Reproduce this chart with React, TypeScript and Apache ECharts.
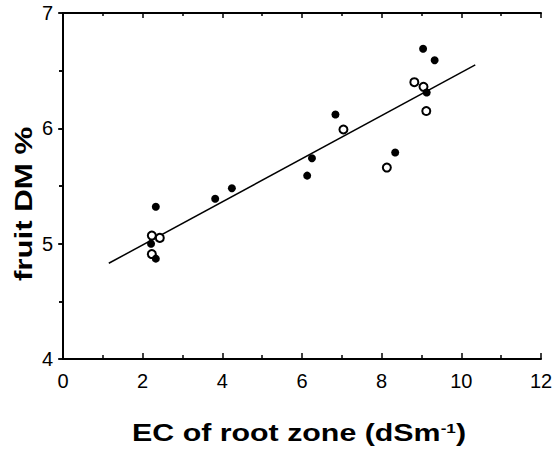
import React, { useEffect, useRef } from "react";
import * as echarts from "echarts";

const filledX = [2.33, 2.21, 2.33, 3.82, 4.24, 6.13, 6.25, 6.84, 8.34, 9.04, 9.33, 9.13];
const filledY = [5.32, 5.0, 4.87, 5.39, 5.48, 5.59, 5.74, 6.12, 5.79, 6.69, 6.59, 6.31];
const openX = [2.23, 2.43, 2.23, 7.04, 8.13, 8.82, 9.05, 9.12];
const openY = [5.07, 5.05, 4.91, 5.99, 5.66, 6.4, 6.36, 6.15];
const fitX = [1.15, 10.35];
const fitY = [4.83, 6.55];

const xTitle = "EC of root zone (dSm";
const xTitleSup = "-1";
const yTitle = "fruit DM %";

const zip = (a: number[], b: number[]) => a.map((v, i) => [v, b[i]]);

export default function App() {
  const ref = useRef<HTMLDivElement>(null);
  useEffect(() => {
    document.body.style.margin = "0";
    const chart = echarts.init(ref.current!, null, { renderer: "svg" });
    const font = "'Liberation Sans', Arial, sans-serif";
    const axisLine = { show: true, lineStyle: { color: "#000", width: 2 } };
    chart.setOption({
      animation: false,
      backgroundColor: "#fff",
      grid: { left: 63, right: 14, top: 13, bottom: 93, containLabel: false, outerBoundsMode: "none" },
      xAxis: [
        {
          type: "value",
          min: 0,
          max: 12,
          interval: 2,
          axisLine,
          axisTick: { show: true, inside: true, length: 6, lineStyle: { color: "#000", width: 1.5 } },
          minorTick: { show: true, splitNumber: 2, length: 4, lineStyle: { color: "#000", width: 1.5 } },
          splitLine: { show: false },
          axisLabel: { color: "#000", fontSize: 20, fontFamily: font, margin: 12 },
        },
        {
          type: "value",
          position: "top",
          min: 0,
          max: 12,
          interval: 2,
          axisLine,
          axisTick: { show: true, inside: true, length: 5, lineStyle: { color: "#000", width: 1.5 } },
          minorTick: { show: true, splitNumber: 2, length: 3, lineStyle: { color: "#000", width: 1.5 } },
          splitLine: { show: false },
          axisLabel: { show: false },
        },
      ],
      yAxis: [
        {
          type: "value",
          min: 4,
          max: 7,
          interval: 1,
          axisLine,
          axisTick: { show: true, inside: false, length: 4, lineStyle: { color: "#000", width: 1.5 } },
          minorTick: { show: true, splitNumber: 2, length: 4, lineStyle: { color: "#000", width: 1.5 } },
          splitLine: { show: false },
          axisLabel: { color: "#000", fontSize: 20, fontFamily: font, margin: 10 },
        },
        {
          type: "value",
          position: "right",
          min: 4,
          max: 7,
          interval: 1,
          axisLine,
          axisTick: { show: true, inside: true, length: 5, lineStyle: { color: "#000", width: 1.5 } },
          minorTick: { show: true, splitNumber: 2, length: 4, lineStyle: { color: "#000", width: 1.5 } },
          splitLine: { show: false },
          axisLabel: { show: false },
        },
      ],
      series: [
        {
          type: "line",
          data: zip(fitX, fitY),
          showSymbol: false,
          symbol: "none",
          lineStyle: { color: "#000", width: 1.5 },
          z: 1,
        },
        {
          type: "scatter",
          data: zip(filledX, filledY),
          symbol: "circle",
          symbolSize: 8,
          itemStyle: { color: "#000", opacity: 1 },
          z: 3,
        },
        {
          type: "scatter",
          data: zip(openX, openY),
          symbol: "circle",
          symbolSize: 8,
          itemStyle: { color: "#fff", borderColor: "#000", borderWidth: 2, opacity: 1 },
          z: 2,
        },
      ],
      graphic: [
        {
          type: "text",
          x: 299,
          y: 433,
          scaleX: 1.32,
          style: {
            text: `{a|${xTitle}}{s|${xTitleSup}}{a|)}`,
            align: "center",
            verticalAlign: "middle",
            fill: "#000",
            rich: {
              a: { fontSize: 23, fontWeight: "bold", fontFamily: font, fill: "#000", verticalAlign: "bottom" },
              s: { fontSize: 13, fontWeight: "bold", fontFamily: font, fill: "#000", verticalAlign: "top", padding: [0, 0, 9, 0] },
            },
          },
        },
        {
          type: "text",
          x: 24,
          y: 204,
          rotation: Math.PI / 2,
          scaleX: 1.3,
          style: {
            text: yTitle,
            font: `bold 24px ${font}`,
            align: "center",
            verticalAlign: "middle",
            fill: "#000",
          },
        },
      ],
    });
    return () => chart.dispose();
  }, []);
  return <div ref={ref} style={{ position: "fixed", left: 0, top: 0, width: 555, height: 452 }} />;
}
